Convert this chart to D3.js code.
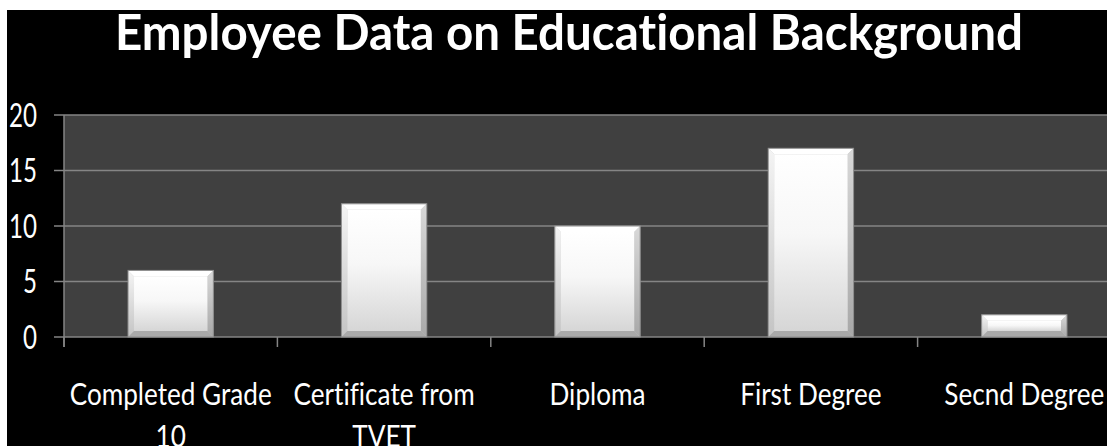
<!DOCTYPE html>
<html>
<head>
<meta charset="utf-8">
<script src="https://cdn.jsdelivr.net/npm/d3@7"></script>
<style>
  html, body { margin: 0; padding: 0; background: #ffffff; }
  svg { display: block; }
  text { font-family: Lato, "Open Sans", sans-serif; fill: #ffffff; font-variant-ligatures: none; font-feature-settings: "liga" 0, "clig" 0; }
</style>
</head>
<body>
<svg id="chart" width="1107" height="446"></svg>
<script>
// Educational background of employees
const categories = ["Completed Grade 10", "Certificate from TVET", "Diploma", "First Degree", "Secnd Degree"];
const employees = [6, 12, 10, 17, 2];
const yTicks = [0, 5, 10, 15, 20];
const title = "Employee Data on Educational Background";

const W = 1107, H = 446;
const plot = { left: 64, right: 1131, top: 115, bottom: 337 };

const svg = d3.select("#chart");
const defs = svg.append("defs");

// bar face gradient
const faceGrad = defs.append("linearGradient").attr("id", "face")
  .attr("x1", 0).attr("y1", 0).attr("x2", 0).attr("y2", 1);
faceGrad.append("stop").attr("offset", "0%").attr("stop-color", "#ffffff");
faceGrad.append("stop").attr("offset", "45%").attr("stop-color", "#f7f7f7");
faceGrad.append("stop").attr("offset", "100%").attr("stop-color", "#d6d6d6");

const leftGrad = defs.append("linearGradient").attr("id", "leftEdge")
  .attr("x1", 0).attr("y1", 0).attr("x2", 0).attr("y2", 1);
leftGrad.append("stop").attr("offset", "0%").attr("stop-color", "#f4f4f4");
leftGrad.append("stop").attr("offset", "100%").attr("stop-color", "#c4c4c4");

const rightGrad = defs.append("linearGradient").attr("id", "rightEdge")
  .attr("x1", 0).attr("y1", 0).attr("x2", 0).attr("y2", 1);
rightGrad.append("stop").attr("offset", "0%").attr("stop-color", "#d8d8d8");
rightGrad.append("stop").attr("offset", "100%").attr("stop-color", "#a8a8a8");

// page background and black chart area
svg.append("rect").attr("width", W).attr("height", H).attr("fill", "#ffffff");
svg.append("rect").attr("x", 7).attr("y", 10).attr("width", W - 7).attr("height", H - 10).attr("fill", "#000000");

const x = d3.scaleBand().domain(categories)
  .range([plot.left, plot.right]).paddingInner(0.6).paddingOuter(0.3);
const y = d3.scaleLinear().domain([0, 20]).range([plot.bottom, plot.top]);

// plot area
svg.append("rect")
  .attr("x", plot.left).attr("y", plot.top)
  .attr("width", plot.right - plot.left).attr("height", plot.bottom - plot.top)
  .attr("fill", "#404040");

// horizontal gridlines with left ticks
svg.append("g").selectAll("line").data(yTicks).join("line")
  .attr("x1", plot.left - 10).attr("x2", plot.right)
  .attr("y1", d => y(d)).attr("y2", d => y(d))
  .attr("stroke", "#858585").attr("stroke-width", 1.5);

// value axis line
svg.append("line")
  .attr("x1", plot.left).attr("x2", plot.left)
  .attr("y1", plot.top).attr("y2", plot.bottom + 10)
  .attr("stroke", "#858585").attr("stroke-width", 1.5);

// category boundary ticks
const step = x.step();
const bounds = d3.range(categories.length + 1).map(i => plot.left + i * step);
svg.append("g").selectAll("line").data(bounds).join("line")
  .attr("x1", d => d).attr("x2", d => d)
  .attr("y1", plot.bottom).attr("y2", plot.bottom + 10)
  .attr("stroke", "#858585").attr("stroke-width", 1.5);

// bars with bevelled edges
const b = 6;
const bars = svg.append("g").selectAll("g").data(categories.map((c, i) => ({ c, v: employees[i] })))
  .join("g");
bars.each(function(d) {
  const g = d3.select(this);
  const x0 = x(d.c), w = x.bandwidth();
  const y0 = y(d.v), h = y(0) - y(d.v);
  const poly = pts => pts.map(p => p.join(",")).join(" ");
  g.append("rect").attr("x", x0).attr("y", y0).attr("width", w).attr("height", h)
    .attr("fill", "#c8c8c8");
  g.append("polygon").attr("points", poly([[x0, y0], [x0 + w, y0], [x0 + w - b, y0 + b], [x0 + b, y0 + b]]))
    .attr("fill", "#ffffff");
  g.append("polygon").attr("points", poly([[x0, y0], [x0 + b, y0 + b], [x0 + b, y0 + h - b], [x0, y0 + h]]))
    .attr("fill", "url(#leftEdge)");
  g.append("polygon").attr("points", poly([[x0 + w, y0], [x0 + w, y0 + h], [x0 + w - b, y0 + h - b], [x0 + w - b, y0 + b]]))
    .attr("fill", "url(#rightEdge)");
  g.append("polygon").attr("points", poly([[x0, y0 + h], [x0 + b, y0 + h - b], [x0 + w - b, y0 + h - b], [x0 + w, y0 + h]]))
    .attr("fill", "#a9a9a9");
  g.append("rect").attr("x", x0 + b).attr("y", y0 + b)
    .attr("width", Math.max(0, w - 2 * b)).attr("height", Math.max(0, h - 2 * b))
    .attr("fill", "url(#face)");
  g.append("rect").attr("x", x0).attr("y", y0).attr("width", w).attr("height", h)
    .attr("fill", "none").attr("stroke", "#8c8c8c").attr("stroke-width", 1);
});

// helper: natural width of a string in a given font
const probe = svg.append("text").attr("x", -1000).attr("y", -1000);
function measure(str, size, weight) {
  probe.attr("font-size", size).attr("font-weight", weight).text(str);
  return probe.node().getComputedTextLength();
}

// value axis labels
const tickSize = 32;
const tickSx = 28 / measure("20", tickSize, 400);
svg.append("g").selectAll("text").data(yTicks).join("text")
  .attr("transform", d => `translate(37,${y(d) + 11.5}) scale(${tickSx},1)`)
  .attr("text-anchor", "end")
  .attr("font-size", tickSize)
  .text(d => d);

// category labels, wrapped to the band step
const catSize = 30.7;
const catSx = 202 / measure("Completed Grade", catSize, 400);
function wrap(label) {
  const words = label.split(" ");
  const lines = [];
  let cur = "";
  words.forEach(wd => {
    const trial = cur ? cur + " " + wd : wd;
    if (cur && measure(trial, catSize, 400) * catSx > step * 0.97) {
      lines.push(cur); cur = wd;
    } else cur = trial;
  });
  lines.push(cur);
  return lines;
}
const catG = svg.append("g");
categories.forEach(c => {
  const cx = x(c) + x.bandwidth() / 2;
  wrap(c).forEach((line, i) => {
    catG.append("text")
      .attr("transform", `translate(${cx},${405 + i * 42}) scale(${catSx},1)`)
      .attr("text-anchor", "middle")
      .attr("font-size", catSize)
      .text(line);
  });
});

// title
const titleSize = 49;
const titleSx = 908 / measure(title, titleSize, 700);
svg.append("text")
  .attr("transform", `translate(569,50) scale(${titleSx},1)`)
  .attr("text-anchor", "middle")
  .attr("font-size", titleSize)
  .attr("font-weight", 700)
  .text(title);

probe.remove();
</script>
</body>
</html>
